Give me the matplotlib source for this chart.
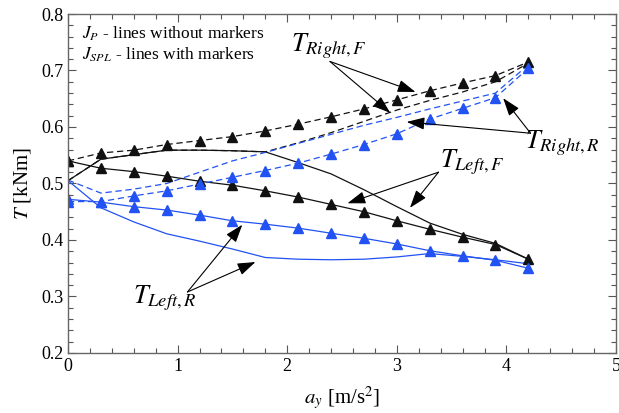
import matplotlib
matplotlib.use("Agg")
import matplotlib.pyplot as plt
from matplotlib.ticker import MultipleLocator

plt.rcParams['font.family'] = ['Liberation Serif', 'DejaVu Serif']
plt.rcParams['mathtext.fontset'] = 'stix'

ay = [0.0, 0.3, 0.6, 0.9, 1.2, 1.5, 1.8, 2.1, 2.4, 2.7, 3.0, 3.3, 3.6, 3.9, 4.2]

# J_SPL (lines with markers)
right_f_spl = [0.540, 0.554, 0.559, 0.569, 0.576, 0.583, 0.593, 0.605, 0.618, 0.632, 0.648, 0.664, 0.678, 0.691, 0.715]
left_f_spl  = [0.540, 0.527, 0.521, 0.513, 0.504, 0.497, 0.487, 0.476, 0.463, 0.450, 0.434, 0.419, 0.405, 0.392, 0.366]
right_r_spl = [0.468, 0.468, 0.478, 0.487, 0.499, 0.511, 0.523, 0.536, 0.552, 0.569, 0.588, 0.614, 0.633, 0.652, 0.704]
left_r_spl  = [0.472, 0.467, 0.459, 0.453, 0.444, 0.434, 0.428, 0.421, 0.412, 0.403, 0.393, 0.381, 0.372, 0.364, 0.350]

# J_P (lines without markers)
right_f_p = [0.505, 0.543, 0.551, 0.559, 0.559, 0.558, 0.556, 0.572, 0.590, 0.610, 0.630, 0.647, 0.662, 0.680, 0.713]
left_f_p  = [0.505, 0.543, 0.551, 0.559, 0.559, 0.558, 0.556, 0.537, 0.517, 0.489, 0.459, 0.430, 0.410, 0.394, 0.366]
right_r_p = [0.506, 0.483, 0.490, 0.500, 0.520, 0.540, 0.555, 0.571, 0.587, 0.603, 0.617, 0.632, 0.646, 0.660, 0.710]
left_r_p  = [0.505, 0.457, 0.432, 0.411, 0.398, 0.384, 0.369, 0.366, 0.365, 0.366, 0.370, 0.376, 0.371, 0.365, 0.358]

BLUE = '#2252f2'
BLACK = '#111111'

fig = plt.figure(figsize=(6.19, 4.13), dpi=100)
ax = fig.add_axes([0.1099, 0.1453, 0.8853, 0.8208])

dash = (0, (5, 3))
ms = 7
ax.plot(ay, right_f_p, color=BLACK, lw=0.9, ls=dash)
ax.plot(ay, left_f_p, color=BLACK, lw=0.9)
ax.plot(ay, right_r_p, color=BLUE, lw=0.9, ls=dash)
ax.plot(ay, left_r_p, color=BLUE, lw=0.9)

ax.plot(ay, right_f_spl, color=BLACK, lw=0.9, ls=dash, marker='^', ms=ms, mec=BLACK, mfc=BLACK)
ax.plot(ay, left_f_spl, color=BLACK, lw=0.9, marker='^', ms=ms, mec=BLACK, mfc=BLACK)
ax.plot(ay, right_r_spl, color=BLUE, lw=0.9, ls=dash, marker='^', ms=ms, mec=BLUE, mfc=BLUE)
ax.plot(ay, left_r_spl, color=BLUE, lw=0.9, marker='^', ms=ms, mec=BLUE, mfc=BLUE)

ax.set_xlim(0, 5)
ax.set_ylim(0.2, 0.8)
ax.xaxis.set_major_locator(MultipleLocator(1))
ax.xaxis.set_minor_locator(MultipleLocator(0.2))
ax.yaxis.set_major_locator(MultipleLocator(0.1))
ax.yaxis.set_minor_locator(MultipleLocator(0.02))
ax.yaxis.set_major_formatter(plt.FuncFormatter(lambda v, p: f"{v:.1f}"))
ax.tick_params(which='both', direction='in', top=True, right=True, labelsize=13, color='#555555')
ax.tick_params(which='major', length=6, width=0.8)
ax.tick_params(which='minor', length=3.5, width=0.8)
for s in ax.spines.values():
    s.set_color('#666666')
    s.set_linewidth(1.0)

ax.set_xlabel(r'$a_y$ [m/s$^2$]', fontsize=15, labelpad=7)
ax.set_ylabel(r'$T$ [kNm]', fontsize=15, labelpad=6)

ax.text(0.13, 0.765, r'$J_{P}$ - lines without markers', fontsize=12.5, va='center')
ax.text(0.13, 0.727, r'$J_{SPL}$ - lines with markers', fontsize=12.5, va='center')

aprops = dict(arrowstyle='-|>,head_length=1.1,head_width=0.38', color='black', lw=0.8,
              shrinkA=0, shrinkB=0)

def label(txt, tx, ty, tail, tips):
    ax.text(tx, ty, txt, fontsize=19, va='center', ha='left')
    for tip in tips:
        ax.annotate('', xy=tip, xytext=tail, arrowprops=aprops)

label(r'$T_{Right,F}$', 2.03, 0.742, (2.39, 0.716), [(3.17, 0.662), (2.94, 0.625)])
label(r'$T_{Right,R}$', 4.17, 0.572, (4.22, 0.589), [(3.97, 0.651), (3.09, 0.609)])
label(r'$T_{Left,F}$', 3.39, 0.538, (3.38, 0.520), [(2.55, 0.465), (3.12, 0.457)])
label(r'$T_{Left,R}$', 0.59, 0.297, (1.09, 0.308), [(1.59, 0.427), (1.71, 0.361)])

fig.savefig('out.png', dpi=100)
